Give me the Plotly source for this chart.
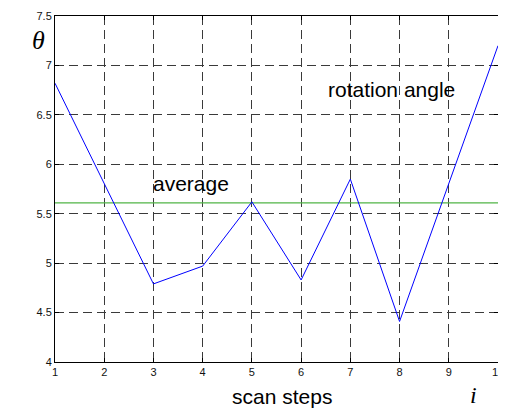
import plotly.graph_objects as go

steps = [1, 2, 3, 4, 5, 6, 7, 8, 9, 10]
angles = [6.82, 5.81, 4.79, 4.97, 5.62, 4.83, 5.85, 4.41, 5.81, 7.20]
average_value = [5.61] * len(steps)
x_ticks = [1, 2, 3, 4, 5, 6, 7, 8, 9, 10]
y_ticks = [4, 4.5, 5, 5.5, 6, 6.5, 7, 7.5]
y_tick_labels = ["4", "4.5", "5", "5.5", "6", "6.5", "7", "7.5"]

narrow = "Liberation Sans Narrow, Arial Narrow, Liberation Sans, Arial"
tickfont = dict(family="Liberation Sans, Arial", size=11, color="#111")

fig = go.Figure()
fig.add_trace(go.Scatter(x=steps, y=average_value, mode="lines",
                         line=dict(color="rgb(80,180,70)", width=1.3),
                         showlegend=False, hoverinfo="skip"))
fig.add_trace(go.Scatter(x=steps, y=angles, mode="lines",
                         line=dict(color="#0000ff", width=1),
                         showlegend=False))

axis_common = dict(showline=True, linecolor="black", linewidth=1, mirror="ticks",
                   ticks="inside", ticklen=4, tickcolor="black",
                   showgrid=True, gridcolor="#3a3a3a", gridwidth=1,
                   griddash="9px,5px", zeroline=False, tickfont=tickfont,
                   ticklabeloverflow="allow")

fig.update_xaxes(range=[1, 10], tickvals=x_ticks, **axis_common)
fig.update_yaxes(range=[4, 7.5], tickvals=y_ticks, ticktext=y_tick_labels, **axis_common)

fig.add_annotation(x=-0.038, y=0.928, xref="paper", yref="paper", text="<i>θ</i>",
                   showarrow=False, font=dict(family="Liberation Serif, Times New Roman, serif",
                                              size=26, color="black"),
                   xanchor="center", yanchor="middle")
fig.add_annotation(x=0.944, y=-0.095, xref="paper", yref="paper", text="<i>i</i>",
                   showarrow=False, font=dict(family="Liberation Serif, Times New Roman, serif",
                                              size=24, color="black"),
                   xanchor="center", yanchor="middle")
fig.add_annotation(x=0.512, y=-0.1, xref="paper", yref="paper", text="scan steps",
                   showarrow=False, font=dict(family=narrow, size=21, color="black"),
                   xanchor="center", yanchor="middle")
fig.add_annotation(x=7.84, y=6.76, text="rotation angle", showarrow=False,
                   font=dict(family=narrow, size=21, color="black"),
                   xanchor="center", yanchor="middle")
fig.add_annotation(x=3.77, y=5.805, text="average", showarrow=False,
                   font=dict(family=narrow, size=21, color="black"),
                   xanchor="center", yanchor="middle")

fig.update_layout(width=498, height=411, margin=dict(l=47, r=2, t=5, b=57),
                  plot_bgcolor="white", paper_bgcolor="white")
fig.write_html("out.html")
